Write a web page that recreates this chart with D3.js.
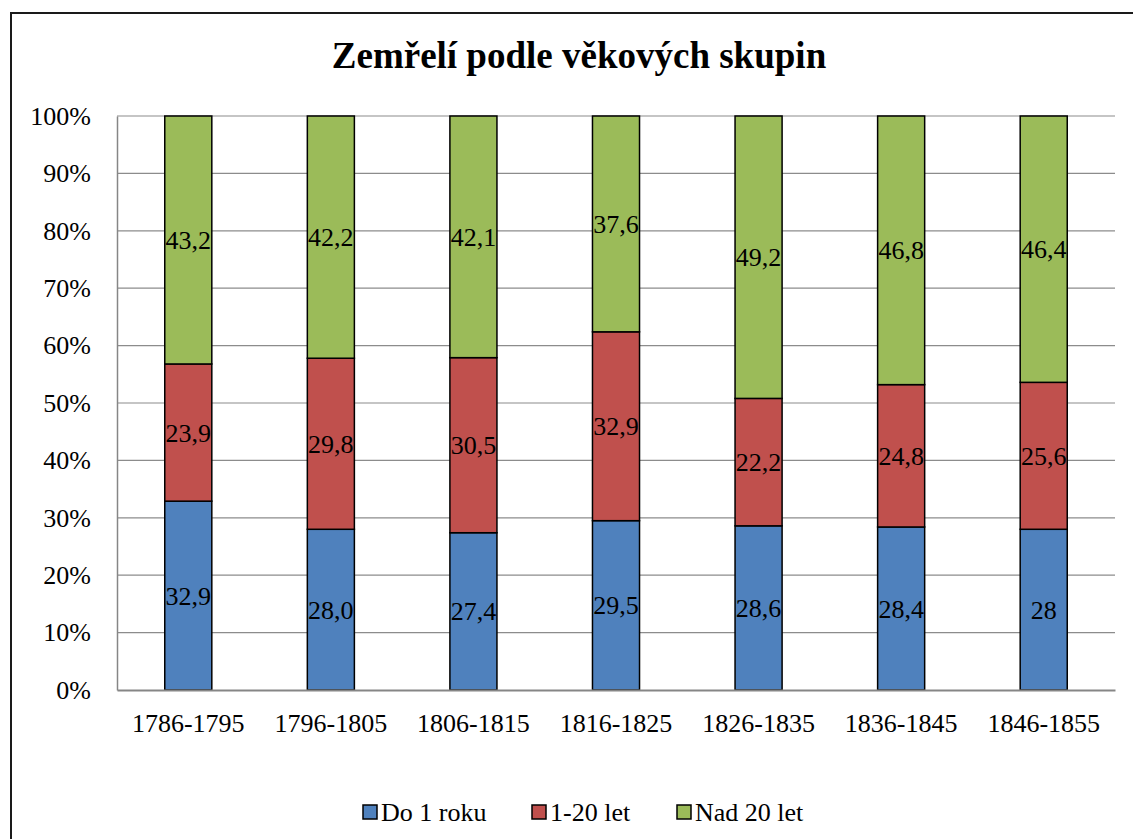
<!DOCTYPE html>
<html>
<head>
<meta charset="utf-8">
<script src="https://cdn.jsdelivr.net/npm/d3@7"></script>
<style>
  body { margin: 0; background: #fff; }
  svg, svg text { font-family: "Liberation Serif", "Times New Roman", serif !important; }
  svg { display: block; }
</style>
</head>
<body>
<svg id="chart" width="1133" height="839"></svg>
<script>
// Data
const periods = ["1786-1795", "1796-1805", "1806-1815", "1816-1825", "1826-1835", "1836-1845", "1846-1855"];
const seriesNames = ["Do 1 roku", "1-20 let", "Nad 20 let"];
const doRoku = [32.9, 28.0, 27.4, 29.5, 28.6, 28.4, 28];
const let1to20 = [23.9, 29.8, 30.5, 32.9, 22.2, 24.8, 25.6];
const nad20 = [43.2, 42.2, 42.1, 37.6, 49.2, 46.8, 46.4];
// label text as printed in the chart (last blue one has no decimal)
const doRokuLabels = ["32,9", "28,0", "27,4", "29,5", "28,6", "28,4", "28"];
const yTicks = [0, 10, 20, 30, 40, 50, 60, 70, 80, 90, 100];
const colors = ["#4F81BD", "#C0504D", "#9BBB59"];

const svg = d3.select("#chart");

// outer chart border (right/bottom edges cut off in the picture)
svg.append("rect")
  .attr("x", 11).attr("y", 13)
  .attr("width", 1140).attr("height", 850)
  .attr("fill", "#fff")
  .attr("stroke", "#1a1a1a")
  .attr("stroke-width", 2);

const plot = { left: 117, top: 116, right: 1115, bottom: 690 };

const x = d3.scaleBand()
  .domain(periods)
  .range([plot.left, plot.right])
  .paddingInner(0.67)
  .paddingOuter(0.335);

const y = d3.scaleLinear()
  .domain([0, 100])
  .range([plot.bottom, plot.top]);

// title
svg.append("text")
  .attr("x", 579).attr("y", 68)
  .attr("text-anchor", "middle")
  .attr("font-size", 37)
  .attr("font-weight", "bold")
  .text("Zemřelí podle věkových skupin");

// gridlines
svg.append("g")
  .selectAll("line")
  .data(yTicks.filter(d => d > 0))
  .join("line")
  .attr("x1", plot.left).attr("x2", plot.right)
  .attr("y1", d => y(d)).attr("y2", d => y(d))
  .attr("stroke", "#8c8c8c")
  .attr("stroke-width", 1.2);

// y axis
const yAxis = svg.append("g")
  .attr("transform", `translate(${plot.left},0)`)
  .call(d3.axisLeft(y).tickValues(yTicks).tickFormat(d => d + "%").tickSize(0).tickPadding(26));
yAxis.attr("font-family", null);
yAxis.select(".domain").attr("stroke", "#868686").attr("stroke-width", 1.5);
yAxis.selectAll("text")
  .attr("font-size", 26)
  .attr("fill", "#000");

// stacked data
const rows = periods.map((p, i) => ({ period: p, a: doRoku[i], b: let1to20[i], c: nad20[i], i }));
const stack = d3.stack().keys(["a", "b", "c"]);
const layers = stack(rows);

const layerG = svg.append("g")
  .selectAll("g")
  .data(layers)
  .join("g")
  .attr("fill", (d, i) => colors[i]);

layerG.selectAll("rect")
  .data(d => d)
  .join("rect")
  .attr("x", d => x(d.data.period))
  .attr("width", x.bandwidth())
  .attr("y", d => y(d[1]))
  .attr("height", d => y(d[0]) - y(d[1]))
  .attr("stroke", "#000")
  .attr("stroke-width", 1.5);

// data labels
const fmt = v => d3.format(".1f")(v).replace(".", ",");
layerG.each(function (layer, li) {
  d3.select(this).selectAll("text")
    .data(layer)
    .join("text")
    .attr("x", d => x(d.data.period) + x.bandwidth() / 2)
    .attr("y", d => (y(d[0]) + y(d[1])) / 2)
    .attr("dy", "0.35em")
    .attr("text-anchor", "middle")
    .attr("font-size", 26)
    .attr("fill", "#000")
    .text(d => li === 0 ? doRokuLabels[d.data.i] : fmt(d[1] - d[0]));
});

// x axis
const xAxis = svg.append("g")
  .attr("transform", `translate(0,${plot.bottom})`)
  .call(d3.axisBottom(x).tickSize(0).tickPadding(24));
xAxis.attr("font-family", null);
xAxis.select(".domain").attr("stroke", "#868686").attr("stroke-width", 2);
xAxis.selectAll("text")
  .attr("font-size", 26)
  .attr("fill", "#000");

// legend
const legendX = [363, 532, 677];
const legend = svg.append("g")
  .selectAll("g")
  .data(seriesNames)
  .join("g")
  .attr("transform", (d, i) => `translate(${legendX[i]},812)`);

legend.append("rect")
  .attr("x", 0).attr("y", -7)
  .attr("width", 14).attr("height", 14)
  .attr("fill", (d, i) => colors[i])
  .attr("stroke", "#000")
  .attr("stroke-width", 1.5);

legend.append("text")
  .attr("x", 18)
  .attr("dy", "0.35em")
  .attr("font-size", 26)
  .text(d => d);
</script>
</body>
</html>
